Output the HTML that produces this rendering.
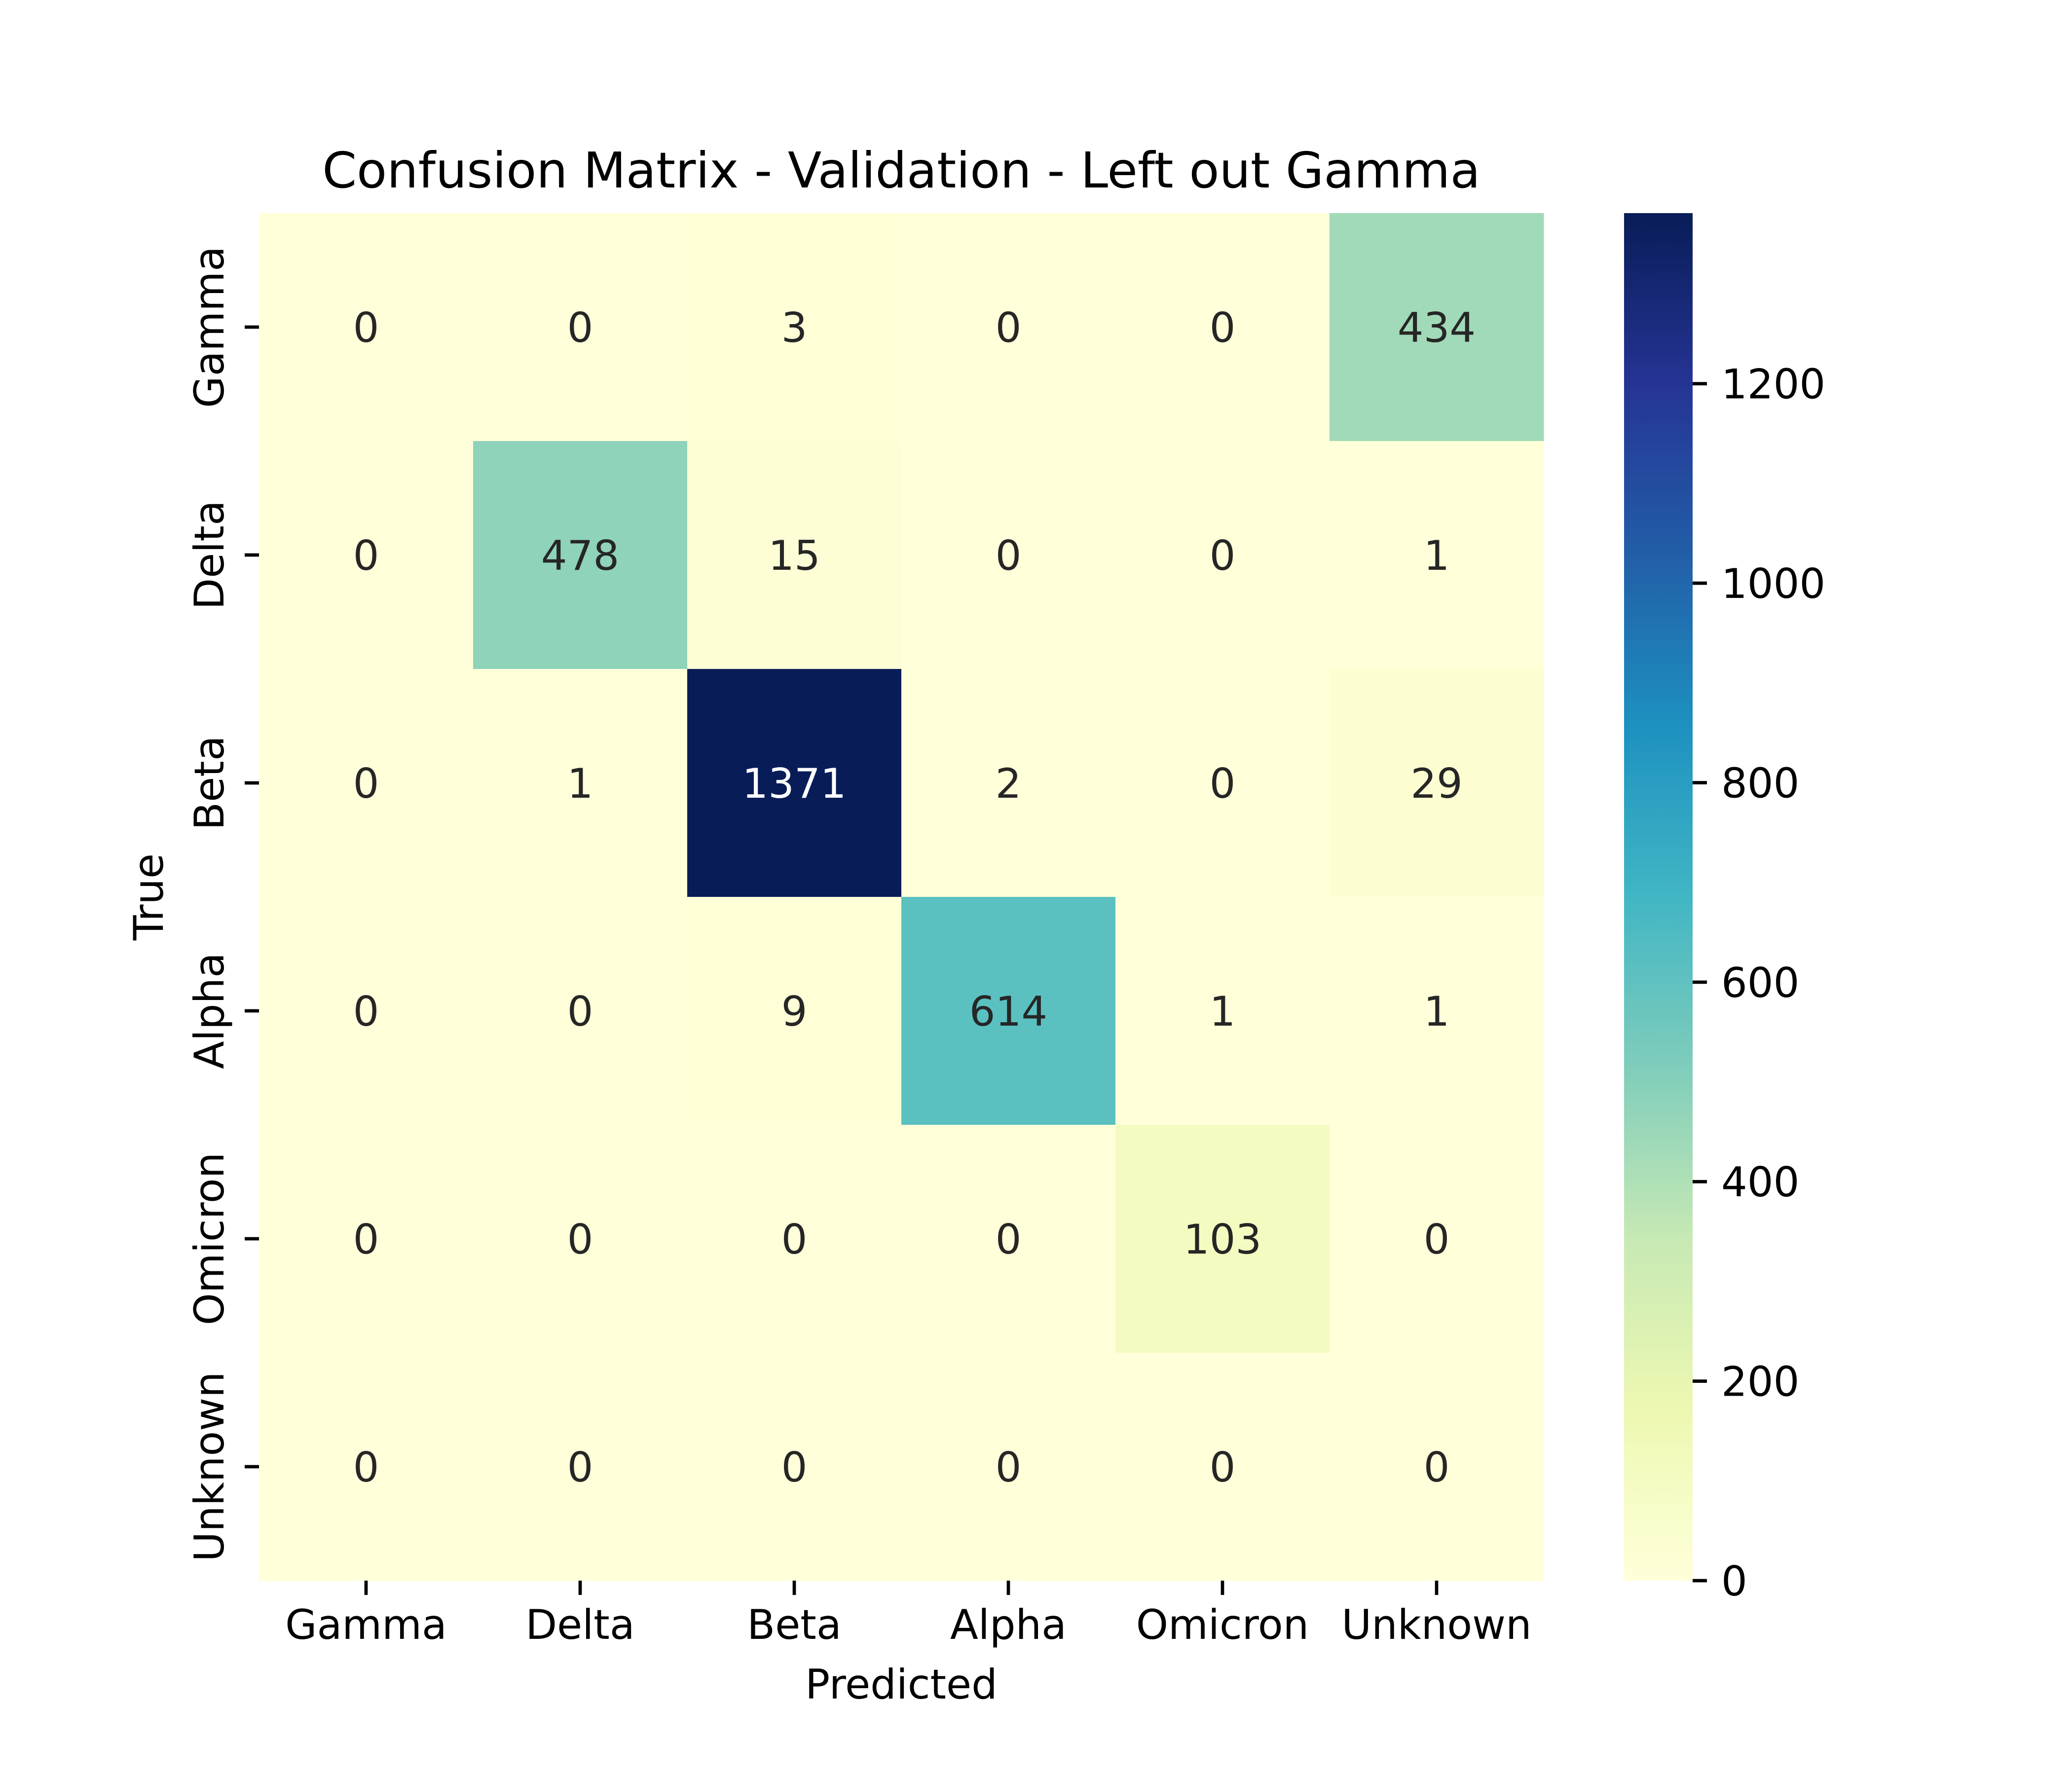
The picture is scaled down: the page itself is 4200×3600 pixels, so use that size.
<!DOCTYPE html>
<html><head><meta charset="utf-8"><style>
html,body{margin:0;padding:0;background:#fff;}
svg{display:block;font-family:"DejaVu Sans","Liberation Sans",sans-serif;}
</style></head><body>
<svg id="chart" width="4200" height="3600" viewBox="0 0 4200 3600" xmlns="http://www.w3.org/2000/svg">
<defs>
<linearGradient id="cbgrad" x1="0" y1="1" x2="0" y2="0">
<stop offset="0" stop-color="#ffffd9"/><stop offset="0.125" stop-color="#edf8b1"/><stop offset="0.25" stop-color="#c7e9b4"/><stop offset="0.375" stop-color="#7fcdbb"/><stop offset="0.5" stop-color="#41b6c4"/><stop offset="0.625" stop-color="#1d91c0"/><stop offset="0.75" stop-color="#225ea8"/><stop offset="0.875" stop-color="#253494"/><stop offset="1" stop-color="#081d58"/>
</linearGradient>
</defs>
<text x="1827" y="380" font-size="100" text-anchor="middle">Confusion Matrix - Validation - Left out Gamma</text>
<g id="cells"></g>
<g id="axes"></g>
<rect x="3292" y="432" width="139" height="2772" fill="url(#cbgrad)"/>
<g id="cbticks"></g>
<text x="1827" y="3443" font-size="83" text-anchor="middle">Predicted</text>
<text transform="translate(330,1818) rotate(-90)" font-size="83" text-anchor="middle">True</text>
</svg>
<script>
const predLabels = ["Gamma","Delta","Beta","Alpha","Omicron","Unknown"];
const trueLabels = ["Gamma","Delta","Beta","Alpha","Omicron","Unknown"];
const row0 = [0,0,3,0,0,434];
const row1 = [0,478,15,0,0,1];
const row2 = [0,1,1371,2,0,29];
const row3 = [0,0,9,614,1,1];
const row4 = [0,0,0,0,103,0];
const row5 = [0,0,0,0,0,0];
const cbTicks = [0,200,400,600,800,1000,1200];

const rows=[row0,row1,row2,row3,row4,row5];
const NS="http://www.w3.org/2000/svg";
const X0=525,X1=3129,Y0=432,Y1=3204;
let vmax=0; rows.forEach(r=>r.forEach(v=>{if(v>vmax)vmax=v;}));
const nC=predLabels.length,nR=trueLabels.length;
const cw=(X1-X0)/nC, ch=(Y1-Y0)/nR;
const xs=i=>X0+i*cw, ys=j=>Y0+j*ch;
const cbY=v=>Y1-(v/vmax)*(Y1-Y0);
const stops=[[255,255,217],[237,248,177],[199,233,180],[127,205,187],[65,182,196],[29,145,192],[34,94,168],[37,52,148],[8,29,88]];
function cmap(t){t=Math.max(0,Math.min(1,t));const p=t*8,i=Math.min(7,Math.floor(p)),f=p-i;const a=stops[i],b=stops[i+1];return [0,1,2].map(k=>Math.round(a[k]+(b[k]-a[k])*f));}
function mk(tag,attrs,parent){const e=document.createElementNS(NS,tag);for(const k in attrs)e.setAttribute(k,attrs[k]);parent.appendChild(e);return e;}
const cells=document.getElementById('cells'),axes=document.getElementById('axes'),cbt=document.getElementById('cbticks');
rows.forEach((r,j)=>r.forEach((v,i)=>{
  const c=cmap(v/vmax);
  const rc=mk('rect',{x:xs(i),y:ys(j),width:cw+0.5,height:ch+0.5,fill:`rgb(${c[0]},${c[1]},${c[2]})`},cells);
  
  
  const lum=(0.2126*c[0]+0.7152*c[1]+0.0722*c[2])/255;
  const t=mk('text',{x:xs(i)+cw/2,y:ys(j)+ch/2+30,'font-size':83,'text-anchor':'middle',fill:lum>0.408?'#262626':'#ffffff'},cells);
  t.textContent=String(v);
  
  
}));
predLabels.forEach((l,i)=>{
  const x=xs(i)+cw/2;
  const tk=mk('line',{x1:x,x2:x,y1:Y1,y2:Y1+29,stroke:'#000','stroke-width':6.7},axes);
  
  
  const t=mk('text',{x:x,y:Y1+118,'font-size':83,'text-anchor':'middle'},axes);
  t.textContent=l;
  
  
});
trueLabels.forEach((l,j)=>{
  const y=ys(j)+ch/2;
  const tk=mk('line',{x1:X0-29,x2:X0,y1:y,y2:y,stroke:'#000','stroke-width':6.7},axes);
  
  
  const t=mk('text',{transform:`translate(${X0-72},${y}) rotate(-90)`,'font-size':83,'text-anchor':'middle'},axes);
  t.textContent=l;
  
  
});
cbTicks.forEach(v=>{
  const y=cbY(v);
  const tk=mk('line',{x1:3431,x2:3460,y1:y,y2:y,stroke:'#000','stroke-width':6.7},cbt);
  
  
  const t=mk('text',{x:3489,y:y+30,'font-size':83},cbt);
  t.textContent=String(v);
  
  
});
</script>
</body></html>
